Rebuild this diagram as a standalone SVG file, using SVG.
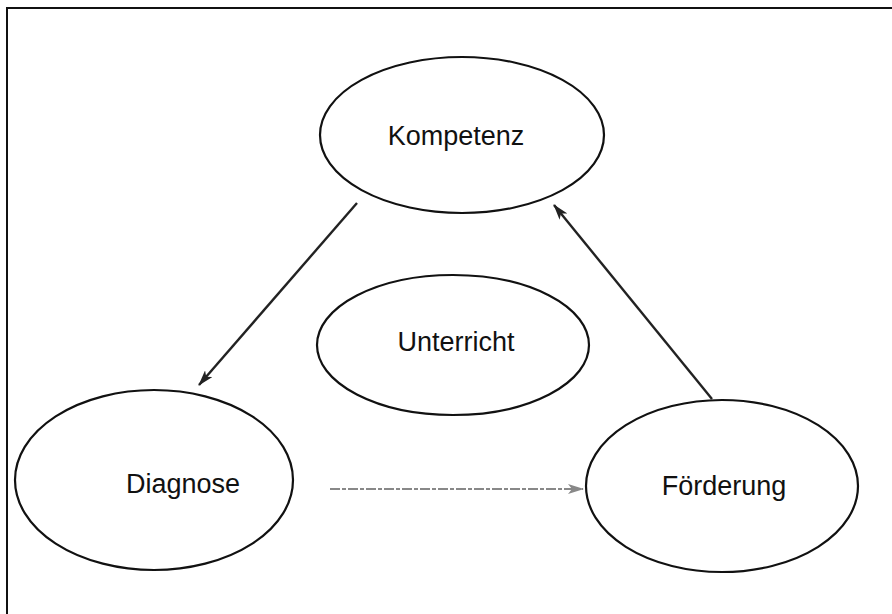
<svg xmlns="http://www.w3.org/2000/svg" width="892" height="614" viewBox="0 0 892 614">
<defs>
<style>
.node ellipse{fill:#fff;stroke:#111;stroke-width:2.2}
.node text{font-family:"Liberation Sans",Arial,sans-serif;font-size:27px;fill:#111;text-anchor:middle}
.edge{stroke:#222;stroke-width:2.4;fill:none}
.edge.light{stroke:#888;stroke-width:1.8;stroke-dasharray:10 2 4 2}
</style>
<marker id="ah" markerWidth="16" markerHeight="10" refX="15" refY="5" orient="auto" markerUnits="userSpaceOnUse">
<path d="M0,0 L16,5 L0,10 L4,5 Z" fill="#222"/>
</marker>
<marker id="ahl" markerWidth="16" markerHeight="10" refX="15" refY="5" orient="auto" markerUnits="userSpaceOnUse">
<path d="M0,0 L16,5 L0,10 L4,5 Z" fill="#888"/>
</marker>
</defs>
<rect width="892" height="614" fill="#fff"/>
<path d="M7,614 L7,8 L892,8" fill="none" stroke="#111" stroke-width="2"/>
<g id="kompetenz" class="node">
<ellipse cx="462" cy="135" rx="142" ry="78"/>
<text x="456" y="145">Kompetenz</text>
</g>
<g id="unterricht" class="node">
<ellipse cx="453" cy="345" rx="136" ry="70"/>
<text x="456" y="351">Unterricht</text>
</g>
<g id="diagnose" class="node">
<ellipse cx="154" cy="480" rx="139" ry="90"/>
<text x="183" y="493">Diagnose</text>
</g>
<g id="foerderung" class="node">
<ellipse cx="722" cy="486" rx="136" ry="86"/>
<text x="724" y="495">Förderung</text>
</g>
<g id="connectors">
<line class="edge" x1="357" y1="203" x2="199" y2="385" marker-end="url(#ah)"/>
<line class="edge" x1="712" y1="399" x2="554" y2="205" marker-end="url(#ah)"/>
<line class="edge light" x1="330" y1="489" x2="583" y2="489" marker-end="url(#ahl)"/>
</g>
</svg>
